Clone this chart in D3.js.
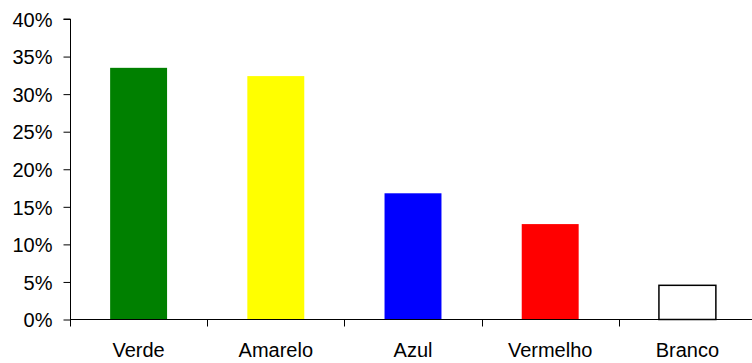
<!DOCTYPE html>
<html>
<head>
<meta charset="utf-8">
<script src="https://cdn.jsdelivr.net/npm/d3@7"></script>
<style>
  html, body { margin: 0; padding: 0; background: #fff; }
  svg text { font-family: Arial, "Liberation Sans", sans-serif; fill: #000; }
</style>
</head>
<body>
<svg id="chart" width="752" height="363"></svg>
<script>
// Share of each colour choice
const categories = ["Verde", "Amarelo", "Azul", "Vermelho", "Branco"];
const values = [0.335, 0.324, 0.168, 0.127, 0.0455];
const barColors = ["#008000", "#ffff00", "#0000ff", "#ff0000", "#ffffff"];
const yTicks = [0, 0.05, 0.10, 0.15, 0.20, 0.25, 0.30, 0.35, 0.40];

const svg = d3.select("#chart");
const plotLeft = 70, plotRight = 756, plotTop = 19, plotBottom = 319.5;

const x = d3.scaleBand().domain(categories).range([plotLeft, plotRight]).paddingInner(0.585).paddingOuter(0.2925);
const xBoundaries = d3.scaleLinear().domain([0, categories.length]).range([plotLeft, plotRight]);
const y = d3.scaleLinear().domain([0, 0.40]).range([plotBottom, plotTop]);

// Bars
svg.append("g").selectAll("rect")
  .data(values)
  .join("rect")
  .attr("x", (d, i) => x(categories[i]))
  .attr("width", x.bandwidth())
  .attr("y", d => y(d))
  .attr("height", d => plotBottom - y(d))
  .attr("fill", (d, i) => barColors[i])
  .attr("stroke", (d, i) => categories[i] === "Branco" ? "#000" : "none")
  .attr("stroke-width", 1.5);

// Y axis
const yAxis = d3.axisLeft(y).tickValues(yTicks).tickSize(7).tickPadding(11)
  .tickFormat(d3.format(".0%"));
const gy = svg.append("g").attr("transform", `translate(${plotLeft + 0.5},0)`).call(yAxis);
gy.select(".domain").attr("stroke", "#000").attr("d", `M-7,${y(0.40)}H0V${plotBottom}`);
gy.selectAll(".tick line").attr("stroke", "#000");
gy.selectAll("text").style("font-size", "20px").attr("dy", "0.36em");

// X axis: ticks sit between categories
const gx = svg.append("g").attr("transform", `translate(0,${Math.round(plotBottom) - 0.5})`);
gx.append("line").attr("x1", plotLeft).attr("x2", 752).attr("stroke", "#000");
gx.selectAll(".cat-tick")
  .data(d3.range(categories.length))
  .join("line")
  .attr("class", "cat-tick")
  .attr("x1", i => Math.round(xBoundaries(i)) + 0.5)
  .attr("x2", i => Math.round(xBoundaries(i)) + 0.5)
  .attr("y1", 0).attr("y2", 7)
  .attr("stroke", "#000");
gx.selectAll(".cat-label")
  .data(categories)
  .join("text")
  .attr("class", "cat-label")
  .attr("x", d => x(d) + x.bandwidth() / 2)
  .attr("y", 37)
  .attr("text-anchor", "middle")
  .style("font-size", "20px")
  .text(d => d);
</script>
</body>
</html>
